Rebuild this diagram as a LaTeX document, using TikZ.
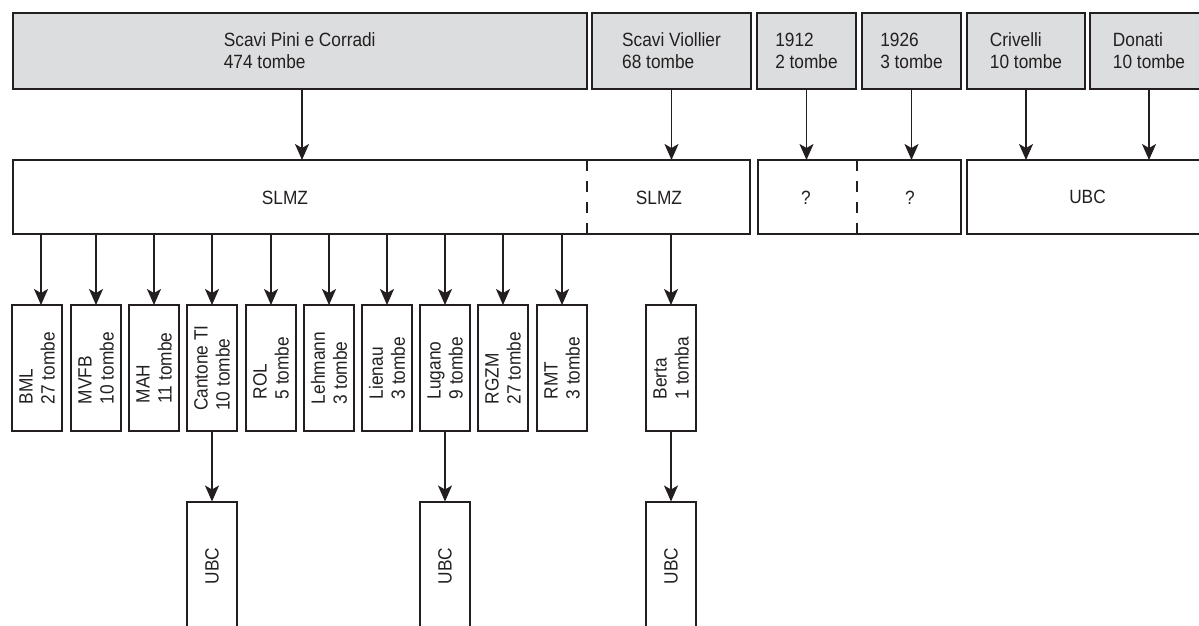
\documentclass[tikz,border=0pt]{standalone}
\usepackage{fontspec}
\setmainfont[FakeStretch=0.9]{Liberation Sans}
\usetikzlibrary{arrows.meta}
\definecolor{boxgray}{HTML}{DCDDDE}
\definecolor{ink}{HTML}{231F20}
\begin{document}
\begin{tikzpicture}[x=1pt,y=-1pt,
  font=\fontsize{19.2}{22}\selectfont,
  box/.style={draw=ink, line width=2pt, inner sep=0pt, outer sep=0pt, align=left, text=ink},
  srcbox/.style={box, fill=boxgray, minimum height=75pt},
  midbox/.style={box, minimum height=74pt},
  vbox/.style={box, minimum width=49.5pt, minimum height=126pt},
  ubcbox/.style={box, minimum width=49.5pt, minimum height=129pt},
  lbl/.style={inner sep=0pt, align=left, text=ink},
  arr/.style={draw=ink, line width=1.7pt, -{Stealth[length=16pt,width=14pt,inset=4pt]}},
  divider/.style={draw=ink, line width=2.2pt, dash pattern=on 11pt off 10pt}]
\useasboundingbox (0,0) rectangle (1199,626);
\clip (0,0) rectangle (1199,626);

% top row
\node[srcbox, minimum width=573.5pt] (pini) at (299.75,51) {Scavi Pini e Corradi\\474 tombe};
\node[srcbox, minimum width=159pt] (viol) at (671.5,51) {Scavi Viollier\\68 tombe};
\node[srcbox, minimum width=99pt] (y1912) at (806.5,51) {1912\\2 tombe};
\node[srcbox, minimum width=99pt] (y1926) at (911.5,51) {1926\\3 tombe};
\node[srcbox, minimum width=118pt] (criv) at (1026,51) {Crivelli\\10 tombe};
\node[srcbox, minimum width=118pt] (don) at (1149,51) {Donati\\10 tombe};

% second row
\node[midbox, minimum width=737pt] (slmz) at (381.5,197) {};
\coordinate (d1) at (587,197);
\draw[divider] (d1 |- slmz.north) -- (d1 |- slmz.south);
\node[lbl] (slmzA) at (285,198) {SLMZ};
\node[lbl] (slmzB) at (659,198) {SLMZ};

\node[midbox, minimum width=203pt] (qbox) at (859.5,197) {};
\coordinate (d2) at (857,197);
\draw[divider] (d2 |- qbox.north) -- (d2 |- qbox.south);
\node[lbl] (qA) at (806,198) {?};
\node[lbl] (qB) at (910,198) {?};

\node[midbox, minimum width=241pt] (ubcR) at (1087.5,197) {UBC};

% arrows top -> second row
\coordinate (a1) at (302,0);
\draw[arr] (pini.south -| a1) -- (slmz.north -| a1);
\draw[arr] (viol.south) -- (viol.south |- slmz.north);
\draw[arr] (y1912.south) -- (y1912.south |- qbox.north);
\draw[arr] (y1926.south) -- (y1926.south |- qbox.north);
\draw[arr] (criv.south) -- (criv.south |- ubcR.north);
\draw[arr] (don.south) -- (don.south |- ubcR.north);

% third row
\node[vbox] (bml) at (37,368) {};
\node[vbox] (mvfb) at (96,368) {};
\node[vbox] (mah) at (154,368) {};
\node[vbox] (cant) at (212,368) {};
\node[vbox] (rol) at (271,368) {};
\node[vbox] (leh) at (329,368) {};
\node[vbox] (lie) at (387,368) {};
\node[vbox] (lug) at (445,368) {};
\node[vbox] (rgzm) at (503,368) {};
\node[vbox] (rmt) at (562,368) {};
\node[vbox] (berta) at (671,368) {};

\node[lbl, rotate=90] (bmlT) at (bml) {BML\\27 tombe};
\node[lbl, rotate=90] (mvfbT) at (mvfb) {MVFB\\10 tombe};
\node[lbl, rotate=90] (mahT) at (mah) {MAH\\11 tombe};
\node[lbl, rotate=90] (cantT) at (cant) {Cantone TI\\10 tombe};
\node[lbl, rotate=90] (rolT) at (rol) {ROL\\5 tombe};
\node[lbl, rotate=90] (lehT) at (leh) {Lehmann\\3 tombe};
\node[lbl, rotate=90] (lieT) at (lie) {Lienau\\3 tombe};
\node[lbl, rotate=90] (lugT) at (lug) {Lugano\\9 tombe};
\node[lbl, rotate=90] (rgzmT) at (rgzm) {RGZM\\27 tombe};
\node[lbl, rotate=90] (rmtT) at (rmt) {RMT\\3 tombe};
\node[lbl, rotate=90] (bertaT) at (berta) {Berta\\1 tomba};

% arrows second -> third row
\draw[arr] ([xshift=4pt]bml.north |- slmz.south) -- ([xshift=4pt]bml.north);
\foreach \n in {mvfb,mah,cant,rol,leh,lie,lug,rgzm,rmt,berta}
  \draw[arr] (\n.north |- slmz.south) -- (\n.north);

% fourth row
\node[ubcbox] (ubc1) at (212,566) {};
\node[ubcbox] (ubc2) at (445,566) {};
\node[ubcbox] (ubc3) at (671,566) {};
\node[lbl, rotate=90] (ubc1T) at (ubc1) {UBC};
\node[lbl, rotate=90] (ubc2T) at (ubc2) {UBC};
\node[lbl, rotate=90] (ubc3T) at (ubc3) {UBC};

\draw[arr] (cant.south) -- (ubc1.north);
\draw[arr] (lug.south) -- (ubc2.north);
\draw[arr] (berta.south) -- (ubc3.north);
\end{tikzpicture}
\end{document}
